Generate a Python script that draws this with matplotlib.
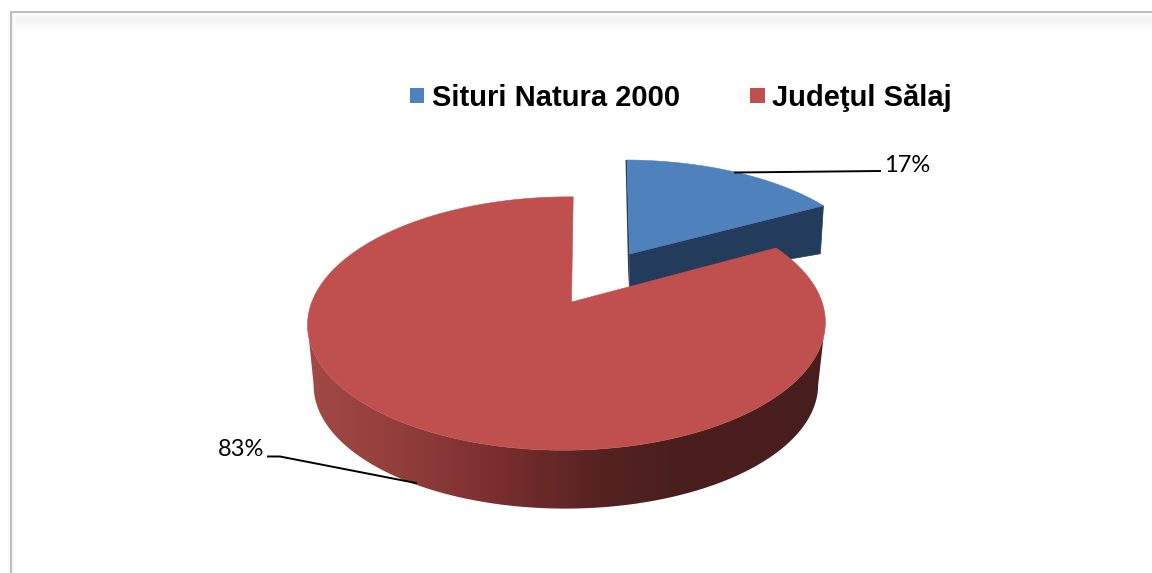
import numpy as np
import matplotlib
matplotlib.use("Agg")
import matplotlib.pyplot as plt
from matplotlib.colors import LinearSegmentedColormap
from matplotlib.patches import Polygon, Rectangle

categories = ["Situri Natura 2000", "Judeţul Sălaj"]
values = [17, 83]
labels = ["17%", "83%"]
colors = ["#4F81BD", "#C0504D"]
blue_wall = "#243C5C"

fig = plt.figure(figsize=(11.52, 5.73), dpi=100, facecolor="white")
ax = fig.add_axes([0, 0, 1, 1])
ax.set_xlim(0, 1152)
ax.set_ylim(573, 0)
ax.axis("off")

# chart frame with its soft inner shadow
for i, g in enumerate([0.985, 0.975, 0.965, 0.955, 0.95, 0.955, 0.965, 0.975, 0.985, 0.993]):
    ax.plot([12, 1152], [14 + i * 1.5] * 2, color=str(g), lw=1.6, zorder=0, solid_capstyle="butt")
for i, g in enumerate([0.96, 0.975, 0.99]):
    ax.plot([13 + i * 1.2] * 2, [13, 573], color=str(g), lw=1.2, zorder=0, solid_capstyle="butt")
for i, g in enumerate([0.985, 0.97]):
    ax.plot([7.5 + i * 1.2] * 2, [12, 573], color=str(g), lw=1.2, zorder=0, solid_capstyle="butt")
ax.plot([10.5, 10.5, 1152], [573, 12, 12], color="#BDBDBD", lw=1.4, zorder=1, solid_joinstyle="miter")

K = 0.17
J = 0.018
end_blue = 2 * np.pi * values[0] / sum(values)


def project(theta, cx, cy, bx, ay, skew=0.0):
    """Clockwise angle from the far side of the disc to picture position."""
    u, v = np.sin(theta), np.cos(theta)
    w = 1 + K * v + J * u
    return cx + (bx * u + skew * v) / w, cy - ay * v / w


def sector(t0, t1, cx, cy, bx, ay, skew=0.0, n=240):
    t = np.linspace(t0, t1, n)
    x, y = project(t, cx, cy, bx, ay, skew)
    return np.column_stack([np.r_[cx, x], np.r_[cy, y]])


# blue slice (pulled out of the pie)
top_b = dict(cx=629.5, cy=254, bx=244.5, ay=110, skew=-2.9)
bot_b = dict(cx=629.5, cy=287, bx=240, ay=108)
tr = project(end_blue, **top_b)
br = (tr[0] - 3, tr[1] + 48)
ax.add_patch(Polygon([(top_b["cx"], top_b["cy"]), tr, br,
                      (bot_b["cx"], bot_b["cy"])], closed=True, fc=blue_wall, ec=blue_wall, lw=0.5, zorder=2))
x0, y0 = project(0, **top_b)
ax.add_patch(Polygon([(x0 - 1.5, y0), (x0, y0), (top_b["cx"], top_b["cy"]),
                      (top_b["cx"] - 1, top_b["cy"] + 33)], closed=True, fc=blue_wall, ec="none", zorder=2))
ax.add_patch(Polygon(sector(0, end_blue, **top_b), closed=True, fc=colors[0], ec=colors[0], lw=0.4, zorder=3))

# red slice
top_r = dict(cx=571.5, cy=302, bx=255, ay=123, skew=2.0)
bot_r = dict(cx=570.5, cy=364, bx=248.5, ay=120)
t = np.linspace(end_blue, 2 * np.pi, 721)
xt, yt = project(t, **top_r)
xb, yb = project(t, **bot_r)

# side wall: horizontal shading, clipped to the band between the two rims
il, ir = np.argmin(xt), np.argmax(xt)
jl, jr = np.argmin(xb), np.argmax(xb)
wall_x = np.r_[xt[ir:il + 1], xb[jr:jl + 1][::-1]]
wall_y = np.r_[yt[ir:il + 1], yb[jr:jl + 1][::-1]]
stops_x = np.array([300, 400, 500, 600, 670, 830])
stops = ["#A34A46", "#923E3C", "#782E2E", "#562222", "#4B1F1E", "#481E1D"]
wall_cmap = LinearSegmentedColormap.from_list(
    "wall", list(zip((stops_x - 300) / 530, stops)))
img = ax.imshow(np.linspace(0, 1, 530).reshape(1, -1), cmap=wall_cmap, aspect="auto",
                extent=(300, 830, 520, 240), zorder=4, interpolation="bilinear")
wall = Polygon(np.column_stack([wall_x, wall_y]), closed=True,
               transform=ax.transData, fc="none", ec="none")
ax.add_patch(wall)
img.set_clip_path(wall)
ax.set_xlim(0, 1152)
ax.set_ylim(573, 0)

ax.add_patch(Polygon(sector(end_blue, 2 * np.pi, n=720, **top_r), closed=True, fc=colors[1], ec=colors[1], lw=0.4, zorder=5))

# leader lines and percentage labels
ax.plot([735, 880], [172.5, 171], color="black", lw=1.4, zorder=6)
ax.plot([416, 280, 268], [483, 456.5, 456.5], color="black", lw=1.4, zorder=6)
ax.text(907, 165, labels[0], ha="center", va="center", fontsize=17, family="Lato", color="black")
ax.text(241, 450, labels[1], ha="center", va="center", fontsize=17, family="Lato", color="black")

# legend
for x, col, name in zip([409.5, 750], colors, categories):
    ax.add_patch(Rectangle((x, 88), 14.5, 15, fc=col, ec="none", zorder=6))
    ax.text(x + 22, 95, name, ha="left", va="center_baseline", fontsize=21,
            family="Liberation Sans", weight="bold", color="black")

fig.savefig("out.png", dpi=100, facecolor="white")
